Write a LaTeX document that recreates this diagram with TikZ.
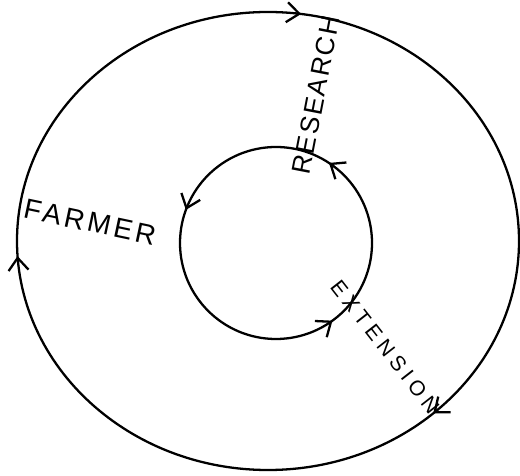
\documentclass[tikz,border=0pt]{standalone}
\usepackage{fontspec}
\setmainfont{Liberation Sans}
\usetikzlibrary{arrows.meta,decorations.markings}

\begin{document}
\begin{tikzpicture}[
    ring/.style={line width=1.3pt},
    barbs/.style n args={3}{decoration={markings,
        mark=at position #1 with {\arrow{Straight Barb[length=2.5mm,width=4mm,line width=1.3pt]}},
        mark=at position #2 with {\arrow{Straight Barb[length=2.5mm,width=4mm,line width=1.3pt]}},
        mark=at position #3 with {\arrow{Straight Barb[length=2.5mm,width=4mm,line width=1.3pt]}}},
        postaction={decorate}},
    word/.style={inner sep=0pt, font=\fontsize{16}{18}\selectfont\addfontfeatures{LetterSpace=12}}
  ]
  \useasboundingbox (0,0) rectangle (10.4,9.5);
  \coordinate (outerc) at (5.36,4.68);
  \coordinate (innerc) at (5.52,4.64);
  % outer ring runs clockwise
  \draw[ring, barbs={0.132}{0.49}{0.772}] (outerc) ++(5.02,0)
    arc[start angle=360, end angle=0, x radius=5.02, y radius=4.58];
  % inner ring runs anticlockwise
  \draw[ring, barbs={0.157}{0.444}{0.85}] (innerc) ++(1.92,0)
    arc[start angle=0, end angle=360, radius=1.92];
  % labels
  \node[word, rotate=79, font=\fontsize{15}{17}\selectfont\addfontfeatures{LetterSpace=8}] (research) at (6.32,7.6) {RESEARCH};
  \node[word, rotate=-12] (farmer) at (1.8,5.06) {FARMER};
  \node[word, rotate=-52, font=\fontsize{12}{14}\selectfont\addfontfeatures{LetterSpace=24}] (extension) at (7.7,2.56) {EXTENSION};
\end{tikzpicture}
\end{document}
